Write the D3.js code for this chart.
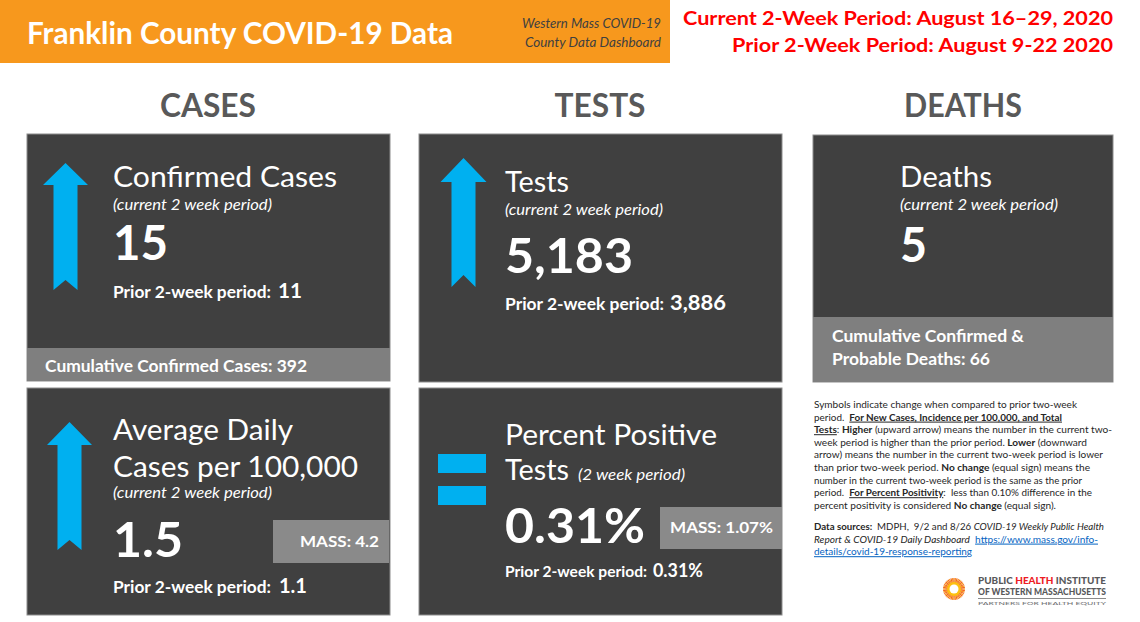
<!DOCTYPE html>
<html lang="en">

<head>
    <meta charset="utf-8">
    <script src="https://d3js.org/d3.v7.min.js"></script>
    <style>
        body { margin: 0; background: #fff; font-family: Lato, "Open Sans", sans-serif; }
    </style>
</head>

<body>
    <div id="chart"></div>

    <script>
        // ---- data ----
        const title = "Franklin County COVID-19 Data";
        const subtitle = ["Western Mass COVID-19", "County Data Dashboard"];
        const periods = ["Current 2-Week Period: August 16\u201329, 2020", "Prior 2-Week Period: August 9-22 2020"];
        const sections = ["CASES", "TESTS", "DEATHS"];

        const metricTitles = [["Confirmed Cases"], ["Average Daily", "Cases per 100,000"], ["Tests"], ["Percent Positive", "Tests"], ["Deaths"]];
        const metricNotes = ["(current 2 week period)", "(current 2 week period)", "(current 2 week period)", "(2 week period)", "(current 2 week period)"];
        const currentValues = ["15", "1.5", "5,183", "0.31%", "5"];
        const priorValues = ["11", "1.1", "3,886", "0.31%", null];
        const trends = ["up", "up", "up", "equal", null];
        const massValues = [null, "MASS: 4.2", null, "MASS: 1.07%", null];
        const cumulative = [["Cumulative Confirmed Cases: 392"], null, null, null, ["Cumulative Confirmed &", "Probable Deaths: 66"]];

        // footnote, as lines of [text, style] pieces
        const notes = [
            [["Symbols indicate change when compared to prior two-week", ""]],
            [["period.  ", ""], ["For New Cases, Incidence per 100,000, and Total", "bu"]],
            [["Tests", "bu"], [": ", ""], ["Higher", "b"], [" (upward arrow) means the number in the current two-", ""]],
            [["week period is higher than the prior period. ", ""], ["Lower", "b"], [" (downward", ""]],
            [["arrow) means the number in the current two-week period is lower", ""]],
            [["than prior two-week period. ", ""], ["No change", "b"], [" (equal sign) means the", ""]],
            [["number in the current two-week period is the same as the prior", ""]],
            [["period.  ", ""], ["For Percent Positivity", "bu"], [":  less than 0.10% difference in the", ""]],
            [["percent positivity is considered ", ""], ["No change", "b"], [" (equal sign).", ""]],
            [["Data sources:", "b"], ["  MDPH,  9/2 and 8/26 ", ""], ["COVID-19 Weekly Public Health", "i"]],
            [["Report & COVID-19 Daily Dashboard", "i"], ["  ", ""], ["https://www.mass.gov/info-", "l"]],
            [["details/covid-19-response-reporting", "l"]]
        ];
        const noteEnds = [1077, 1062, 1112, 1087, 1103, 1090, 1082, 1092, 1056, 1104, 1098, 972];

        const logoLines = ["PUBLIC ", "HEALTH", " INSTITUTE", "OF WESTERN MASSACHUSETTS", "PARTNERS FOR HEALTH EQUITY"];

        // ---- layout ----
        const W = 1140, H = 622;
        const dark = "#404040", mid = "#7f7f7f", blue = "#00b0f0";

        const colX = d3.scaleOrdinal().domain(sections).range([27, 419, 813]);
        const colW = d3.scaleOrdinal().domain(sections).range([363, 363, 300]);
        const headX = d3.scaleOrdinal().domain(sections).range([208, 600, 963]);

        // panel geometry (one entry per metric)
        const panels = [
            { sec: "CASES", y: 134, h: 247, tx: 113, titleY: [187], titleW: [224], noteY: 210, noteW: 159, valY: 260, valW: 55,
              priorY: 298, priorW: 158, priorSize: 17, pvX: 278, pvW: 24, band: { y: 348, tx: 45, ty: [372], w: [262] },
              arrow: { cx: 65.5, top: 163, base: 185, bottom: 290, head: 45, shaft: 24, notch: 10 } },
            { sec: "CASES", y: 388, h: 227, tx: 113, titleY: [440, 477], titleW: [180, 245], noteY: 498, noteW: 159, valY: 557, valW: 70,
              priorY: 593, priorW: 158, priorSize: 17, pvX: 279, pvW: 28, mass: { x: 273, y: 520, w: 116, h: 43, tx: 300, ty: 547, tw: 79 },
              arrow: { cx: 69.5, top: 422, base: 445, bottom: 550, head: 45, shaft: 24, notch: 10 } },
            { sec: "TESTS", y: 134, h: 248, tx: 505, titleY: [192], titleW: [64], noteY: 215, noteW: 158, valY: 273, valW: 128,
              priorY: 310, priorW: 159, priorSize: 17, pvX: 670, pvW: 56,
              arrow: { cx: 463.5, top: 158, base: 182, bottom: 287, head: 46, shaft: 24, notch: 12 } },
            { sec: "TESTS", y: 388, h: 227, tx: 505, titleY: [445, 480], titleW: [212, 64], noteX: 578, noteY: 480, noteW: 107, valY: 543, valW: 140,
              priorY: 577, priorW: 142, priorSize: 15, pvX: 653, pvW: 50, mass: { x: 660, y: 507, w: 122, h: 42, tx: 670, ty: 533, tw: 103 },
              equal: { x: 438, w: 48, y: [454, 486], h: 19 } },
            { sec: "DEATHS", y: 135, h: 247, tx: 900, titleY: [187], titleW: [92], noteY: 210, noteW: 158, valY: 262, valW: 27,
              band: { y: 317, tx: 832, ty: [342, 365], w: [192, 158] } }
        ];

        const svg = d3.select("#chart").append("svg")
            .attr("width", W)
            .attr("height", H)
            .style("display", "block");

        // squeeze/stretch a text run to the width it has in the picture
        function fit(sel, w) {
            return sel.attr("textLength", w).attr("lengthAdjust", "spacingAndGlyphs");
        }

        // header bar
        svg.append("rect").attr("x", 0).attr("y", 0).attr("width", 670).attr("height", 63).attr("fill", "#f7981d");
        fit(svg.append("text").attr("x", 27).attr("y", 44)
            .attr("fill", "#fff").attr("font-size", 31).attr("font-weight", 700).text(title), 426);
        subtitle.forEach((s, i) => {
            fit(svg.append("text").attr("x", 661).attr("y", 28 + i * 19).attr("text-anchor", "end")
                .attr("fill", "#404040").attr("font-size", 12.5).attr("font-style", "italic").text(s), i === 0 ? 139 : 136);
        });
        periods.forEach((p, i) => {
            fit(svg.append("text").attr("x", 1113).attr("y", 25 + i * 27).attr("text-anchor", "end")
                .attr("fill", "#ff0000").attr("font-size", 19).attr("font-weight", 700).text(p), i === 0 ? 430 : 381);
        });

        // section headings
        const headW = { CASES: 96, TESTS: 91, DEATHS: 118 };
        svg.selectAll("text.section").data(sections).join("text")
            .attr("class", "section")
            .attr("x", d => headX(d))
            .attr("y", 117)
            .attr("text-anchor", "middle")
            .attr("fill", "#595959")
            .attr("font-size", 33)
            .attr("font-weight", 700)
            .attr("textLength", d => headW[d])
            .attr("lengthAdjust", "spacingAndGlyphs")
            .text(d => d);

        // panels
        panels.forEach((p, i) => {
            const g = svg.append("g");
            const x0 = colX(p.sec), w = colW(p.sec);
            g.append("rect").attr("x", x0).attr("y", p.y).attr("width", w).attr("height", p.h)
                .attr("fill", dark).attr("stroke", "#8c8c8c").attr("stroke-width", 1);

            if (p.band) {
                g.append("rect").attr("x", x0).attr("y", p.band.y).attr("width", w).attr("height", p.y + p.h - p.band.y)
                    .attr("fill", mid);
                cumulative[i].forEach((c, k) => {
                    fit(g.append("text").attr("x", p.band.tx).attr("y", p.band.ty[k])
                        .attr("fill", "#fff").attr("font-size", 17).attr("font-weight", 700).text(c), p.band.w[k]);
                });
            }

            metricTitles[i].forEach((t, k) => {
                fit(g.append("text").attr("x", p.tx).attr("y", p.titleY[k])
                    .attr("fill", "#fff").attr("font-size", 29).attr("font-weight", 400).text(t), p.titleW[k]);
            });
            fit(g.append("text").attr("x", p.noteX || p.tx).attr("y", p.noteY)
                .attr("fill", "#fff").attr("font-size", 15).attr("font-style", "italic").text(metricNotes[i]), p.noteW);
            fit(g.append("text").attr("x", p.tx).attr("y", p.valY)
                .attr("fill", "#fff").attr("font-size", 47).attr("font-weight", 700).text(currentValues[i]), p.valW);

            if (priorValues[i] !== null) {
                fit(g.append("text").attr("x", p.tx).attr("y", p.priorY)
                    .attr("fill", "#fff").attr("font-size", p.priorSize).attr("font-weight", 700).text("Prior 2-week period:"), p.priorW);
                fit(g.append("text").attr("x", p.pvX).attr("y", p.priorY)
                    .attr("fill", "#fff").attr("font-size", p.priorSize + 4).attr("font-weight", 700).text(priorValues[i]), p.pvW);
            }

            if (massValues[i] !== null) {
                const m = p.mass;
                g.append("rect").attr("x", m.x).attr("y", m.y).attr("width", m.w).attr("height", m.h).attr("fill", "#8a8a8a");
                fit(g.append("text").attr("x", m.tx).attr("y", m.ty)
                    .attr("fill", "#fff").attr("font-size", 16).attr("font-weight", 700).text(massValues[i]), m.tw);
            }

            if (trends[i] === "up") {
                const a = p.arrow;
                const pts = [
                    [a.cx, a.top], [a.cx + a.head / 2, a.base], [a.cx + a.shaft / 2, a.base],
                    [a.cx + a.shaft / 2, a.bottom], [a.cx, a.bottom - a.notch], [a.cx - a.shaft / 2, a.bottom],
                    [a.cx - a.shaft / 2, a.base], [a.cx - a.head / 2, a.base]
                ];
                g.append("path").attr("d", d3.line()(pts) + "Z").attr("fill", blue);
            } else if (trends[i] === "equal") {
                const e = p.equal;
                g.selectAll("rect.eq").data(e.y).join("rect")
                    .attr("class", "eq")
                    .attr("x", e.x).attr("y", d => d).attr("width", e.w).attr("height", e.h).attr("fill", blue);
            }
        });

        // footnote
        const styleOf = {
            "": {}, b: { "font-weight": 700 }, bu: { "font-weight": 700, "text-decoration": "underline" },
            i: { "font-style": "italic" }, l: { fill: "#0563c1", "text-decoration": "underline" }
        };
        notes.forEach((line, k) => {
            const y = k < 9 ? 408 + k * 12.6 : 530 + (k - 9) * 12.6;
            const t = svg.append("text").attr("x", 814).attr("y", y)
                .attr("fill", "#262626").attr("font-size", 10).style("white-space", "pre")
                .attr("textLength", noteEnds[k] - 814).attr("lengthAdjust", "spacingAndGlyphs");
            line.forEach(([txt, st]) => {
                const ts = t.append("tspan").text(txt);
                Object.entries(styleOf[st]).forEach(([key, v]) => ts.attr(key, v));
            });
        });

        // logo
        const logo = svg.append("g");
        const rays = d3.range(44);
        logo.selectAll("line").data(rays).join("line")
            .attr("x1", d => 954 + 5 * Math.cos(d / 44 * 2 * Math.PI))
            .attr("y1", d => 589 + 5 * Math.sin(d / 44 * 2 * Math.PI))
            .attr("x2", d => 954 + 11 * Math.cos(d / 44 * 2 * Math.PI))
            .attr("y2", d => 589 + 11 * Math.sin(d / 44 * 2 * Math.PI))
            .attr("stroke", d => d % 2 ? "#f26522" : "#f7941d")
            .attr("stroke-width", 1.2);
        logo.append("circle").attr("cx", 954).attr("cy", 589).attr("r", 7).attr("fill", "#fdc010");
        logo.append("circle").attr("cx", 954).attr("cy", 589).attr("r", 4.5).attr("fill", "#fff");

        const l1 = fit(logo.append("text").attr("x", 978).attr("y", 584)
            .attr("font-size", 9.5).attr("font-weight", 900).attr("fill", "#58595b"), 128);
        l1.append("tspan").text(logoLines[0]);
        l1.append("tspan").attr("fill", "#ed1c24").text(logoLines[1]);
        l1.append("tspan").text(logoLines[2]);
        fit(logo.append("text").attr("x", 978).attr("y", 595)
            .attr("font-size", 9.5).attr("font-weight", 900).attr("fill", "#58595b").text(logoLines[3]), 128);
        logo.append("line").attr("x1", 978).attr("x2", 1106).attr("y1", 598.5).attr("y2", 598.5)
            .attr("stroke", "#8a8a8a").attr("stroke-width", 1);
        fit(logo.append("text").attr("x", 978).attr("y", 605)
            .attr("font-size", 4.5).attr("fill", "#6d6e71").text(logoLines[4]), 128);
    </script>
</body>

</html>
